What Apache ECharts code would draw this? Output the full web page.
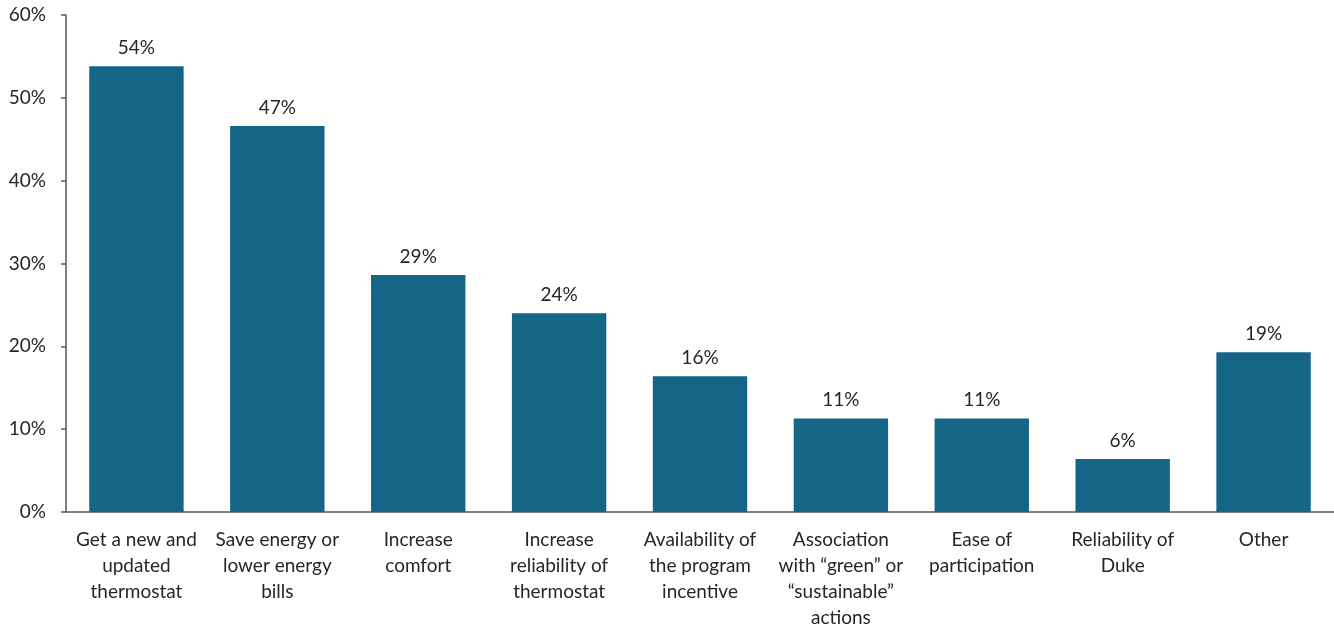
<!DOCTYPE html>
<html>
<head>
<meta charset="utf-8">
<script src="https://cdn.jsdelivr.net/npm/echarts@6/dist/echarts.min.js"></script>
<style>
  html, body { margin: 0; padding: 0; background: #fff; }
  #chart { width: 1334px; height: 631px; }
</style>
</head>
<body>
<div id="chart"></div>
<script>
// Reasons for enrolling, share of respondents (%)
const categories = [
  'Get a new and\nupdated\nthermostat',
  'Save energy or\nlower energy\nbills',
  'Increase\ncomfort',
  'Increase\nreliability of\nthermostat',
  'Availability of\nthe program\nincentive',
  'Association\nwith \u201cgreen\u201d or\n\u201csustainable\u201d\nactions',
  'Ease of\nparticipation',
  'Reliability of\nDuke',
  'Other'
];
const shares = [53.8, 46.6, 28.6, 24.0, 16.4, 11.3, 11.3, 6.4, 19.3];
const yTicks = { min: 0, max: 60, interval: 10 };

const FONT = 'Lato, "Open Sans", sans-serif';
const TEXT = '#262626';

const chart = echarts.init(document.getElementById('chart'), null, { renderer: 'canvas' });
chart.setOption({
  animation: false,
  grid: { left: 66, right: 0, top: 15, bottom: 119, containLabel: false },
  xAxis: {
    type: 'category',
    data: categories,
    axisLine: { lineStyle: { color: '#595959', width: 1.5 } },
    axisTick: { show: false },
    axisLabel: {
      interval: 0,
      color: TEXT,
      fontFamily: FONT,
      fontSize: 19,
      lineHeight: 26,
      margin: 15
    }
  },
  yAxis: {
    type: 'value',
    min: yTicks.min,
    max: yTicks.max,
    interval: yTicks.interval,
    axisLine: { show: true, lineStyle: { color: '#595959', width: 1.5 } },
    axisTick: { show: true, inside: false, length: 5, lineStyle: { color: '#595959', width: 1.5 } },
    splitLine: { show: false },
    axisLabel: {
      color: TEXT,
      fontFamily: FONT,
      fontSize: 19,
      margin: 20,
      formatter: v => v + '%'
    }
  },
  series: [{
    type: 'bar',
    data: shares,
    barCategoryGap: '33%',
    itemStyle: { color: '#146586' },
    label: {
      show: true,
      position: 'top',
      distance: 9,
      color: TEXT,
      fontFamily: FONT,
      fontSize: 19,
      formatter: p => Math.round(p.value) + '%'
    }
  }]
});
</script>
</body>
</html>
